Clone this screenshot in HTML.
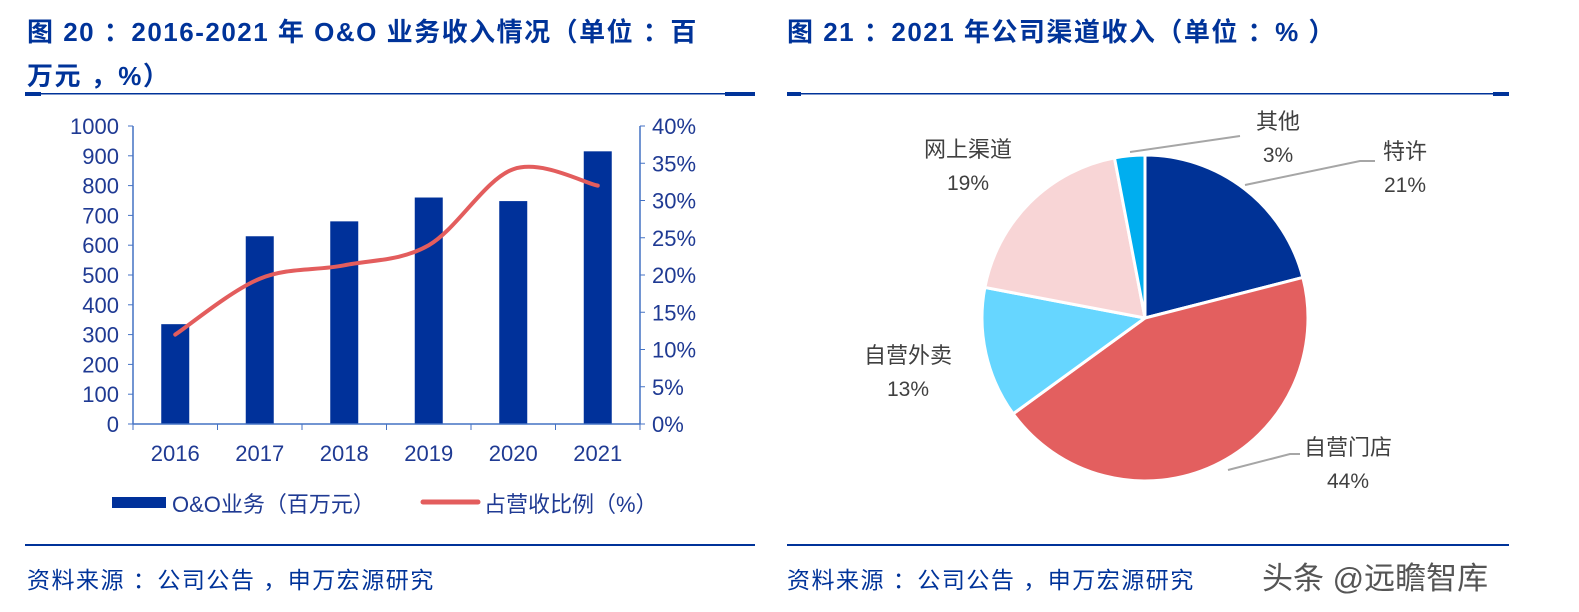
<!DOCTYPE html>
<html><head><meta charset="utf-8"><style>
body{margin:0;width:1579px;height:612px;background:#fff;overflow:hidden;position:relative;font-family:"Liberation Sans","Noto Sans CJK SC",sans-serif}
.t{position:absolute;color:#003399;font-weight:bold;font-size:26px;letter-spacing:1.5px;white-space:nowrap;font-family:"Liberation Sans","Noto Sans CJK SC",sans-serif}
.src{position:absolute;color:#003399;font-size:23px;letter-spacing:1.5px;white-space:nowrap}
svg{position:absolute;left:0;top:0}
</style></head><body>
<div class="t" style="left:27px;top:12px">图 20 ：2016-2021 年 O&amp;O 业务收入情况（单位 ：百</div>
<div class="t" style="left:27px;top:56px">万元 ，%）</div>
<div class="t" style="left:787px;top:12px">图 21 ：2021 年公司渠道收入（单位 ：% ）</div>
<div class="src" style="left:27px;top:561px">资料来源 ：公司公告 ，申万宏源研究</div>
<div class="src" style="left:787px;top:561px">资料来源 ：公司公告 ，申万宏源研究</div>
<div style="position:absolute;left:1262px;top:553px;font-size:31px;color:#555;white-space:nowrap">头条 @远瞻智库</div>
<svg id="s" width="1579" height="612">
<g fill="#003399">
<rect x="25" y="93" width="730" height="1.5"/><rect x="25" y="92" width="16" height="4"/><rect x="725" y="92" width="30" height="4"/>
<rect x="787" y="93" width="722" height="1.5"/><rect x="787" y="92" width="14" height="4"/><rect x="1493" y="92" width="16" height="4"/>
<rect x="25" y="544" width="730" height="2"/><rect x="787" y="544" width="722" height="2"/>
</g>
</svg>
<script>
const years=['2016','2017','2018','2019','2020','2021'];
const revenue=[335,630,680,760,748,915];
const share=[12,19.5,21.3,24,34.2,32];
const leftTicks=[0,100,200,300,400,500,600,700,800,900,1000];
const rightTicks=[0,5,10,15,20,25,30,35,40];
const pieLabels=['特许','自营门店','自营外卖','网上渠道','其他'];
const pieValues=[21,44,13,19,3];
const pieColors=['#003296','#E35F5F','#66D6FF','#F8D5D6','#00AEEF'];

const NS='http://www.w3.org/2000/svg';
const svg=document.getElementById('s');
function mk(tag,attrs,parent){const e=document.createElementNS(NS,tag);for(const k in attrs)e.setAttribute(k,attrs[k]);(parent||svg).appendChild(e);return e;}
const X0=133,X1=640,Y0=424,Y1=126;
const bw=(X1-X0)/years.length;
const xc=i=>X0+bw*(i+0.5);
const yL=v=>Y0-(v/1000)*(Y0-Y1);
const yR=v=>Y0-(v/40)*(Y0-Y1);
const ax='#4472C4';
const fs=22;
revenue.forEach((v,i)=>{const r=mk('rect',{x:xc(i)-14,y:yL(v),width:28,height:Y0-yL(v),fill:'#00319A'});

});
mk('line',{x1:X0,y1:Y1,x2:X0,y2:Y0,stroke:ax,'stroke-width':1.5});
mk('line',{x1:X1,y1:Y1,x2:X1,y2:Y0,stroke:ax,'stroke-width':1.5});
mk('line',{x1:X0,y1:Y0,x2:X1,y2:Y0,stroke:ax,'stroke-width':1.5});
leftTicks.forEach(v=>{const y=yL(v);mk('line',{x1:X0-5,y1:y,x2:X0,y2:y,stroke:ax});
const t=mk('text',{x:X0-14,y:y+8,'text-anchor':'end','font-size':fs,fill:'#1F3A93'});t.textContent=v;

});
rightTicks.forEach(v=>{const y=yR(v);mk('line',{x1:X1,y1:y,x2:X1+5,y2:y,stroke:ax});
const t=mk('text',{x:X1+12,y:y+8,'font-size':fs,fill:'#1F3A93'});t.textContent=v+'%';

});
for(let i=0;i<=years.length;i++){const x=X0+bw*i;mk('line',{x1:x,y1:Y0,x2:x,y2:Y0+6,stroke:ax});}
years.forEach((yv,i)=>{const t=mk('text',{x:xc(i),y:461,'text-anchor':'middle','font-size':fs,fill:'#1F3A93'});t.textContent=yv;

});
const pts=share.map((v,i)=>[xc(i),yR(v)]);
let d='M'+pts[0][0]+','+pts[0][1];
for(let i=0;i<pts.length-1;i++){const p0=pts[i-1]||pts[i],p1=pts[i],p2=pts[i+1],p3=pts[i+2]||p2;const k=1/6;
d+=` C${p1[0]+(p2[0]-p0[0])*k},${p1[1]+(p2[1]-p0[1])*k} ${p2[0]-(p3[0]-p1[0])*k},${p2[1]-(p3[1]-p1[1])*k} ${p2[0]},${p2[1]}`;}
const ln=mk('path',{d:d,fill:'none',stroke:'#E35D5D','stroke-width':4,'stroke-linecap':'round'});


const lg=mk('g',{});


mk('rect',{x:112,y:497,width:54,height:11,fill:'#00319A'},lg);
let t=mk('text',{x:172,y:512,'font-size':fs,fill:'#1F3A93'},lg);t.textContent='O&O业务（百万元）';
mk('line',{x1:423,y1:502,x2:478,y2:502,stroke:'#E35D5D','stroke-width':5,'stroke-linecap':'round'},lg);
t=mk('text',{x:484,y:512,'font-size':fs,fill:'#1F3A93'},lg);t.textContent='占营收比例（%）';
const cx=1145,cy=318,R=163;
const tot=pieValues.reduce((a,b)=>a+b,0);
let a0=0;
pieValues.forEach((v,i)=>{const a1=a0+v/tot*2*Math.PI;
const x0=cx+R*Math.sin(a0),y0=cy-R*Math.cos(a0),x1=cx+R*Math.sin(a1),y1=cy-R*Math.cos(a1);
const p=mk('path',{d:`M${cx},${cy} L${x0},${y0} A${R},${R} 0 ${a1-a0>Math.PI?1:0} 1 ${x1},${y1} Z`,fill:pieColors[i],stroke:'#fff','stroke-width':3,'stroke-linejoin':'round'});


a0=a1;});
[[[1130,152],[1240,136]],[[1245,185],[1360,161],[1375,161]],[[1228,470],[1290,454],[1300,454]]].forEach(pl=>{
const l=mk('polyline',{points:pl.map(p=>p.join(',')).join(' '),fill:'none',stroke:'#A6A6A6','stroke-width':2});

});
const labPos=[[1405,159],[1348,455],[908,363],[968,157],[1278,129]];
pieLabels.forEach((n,i)=>{const [x,y]=labPos[i];
const a=mk('text',{x:x,y:y,'text-anchor':'middle','font-size':22,fill:'#404040'});a.textContent=n;


const b=mk('text',{x:x,y:y+33,'text-anchor':'middle','font-size':21,fill:'#404040'});b.textContent=pieValues[i]+'%';

});
</script>
</body></html>
